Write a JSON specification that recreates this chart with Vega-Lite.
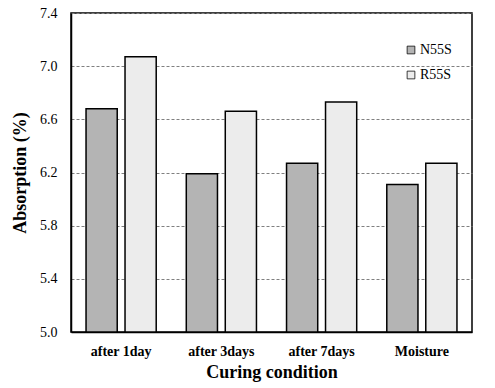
{
  "$schema": "https://vega.github.io/schema/vega-lite/v6.json",
  "width": 401,
  "height": 319,
  "autosize": {"type": "none"},
  "padding": {"left": 71, "top": 13, "right": 23, "bottom": 56},
  "background": "white",
  "data": {
    "values": [
      {"cond": "after 1day", "mix": "N55S", "absorption": 6.68},
      {"cond": "after 1day", "mix": "R55S", "absorption": 7.07},
      {"cond": "after 3days", "mix": "N55S", "absorption": 6.19},
      {"cond": "after 3days", "mix": "R55S", "absorption": 6.66},
      {"cond": "after 7days", "mix": "N55S", "absorption": 6.27},
      {"cond": "after 7days", "mix": "R55S", "absorption": 6.73},
      {"cond": "Moisture", "mix": "N55S", "absorption": 6.11},
      {"cond": "Moisture", "mix": "R55S", "absorption": 6.27}
    ]
  },
  "mark": {"type": "bar", "stroke": "black", "strokeWidth": 1.5},
  "encoding": {
    "x": {
      "field": "cond",
      "type": "nominal",
      "sort": ["after 1day", "after 3days", "after 7days", "Moisture"],
      "scale": {"paddingInner": 0.3, "paddingOuter": 0.15},
      "axis": {
        "title": "Curing condition",
        "labelAngle": 0,
        "ticks": false,
        "labelPadding": 12,
        "labelFont": "Liberation Serif, DejaVu Serif, serif",
        "labelFontSize": 14,
        "labelFontWeight": "bold",
        "labelColor": "black",
        "titleFont": "Liberation Serif, DejaVu Serif, serif",
        "titleFontSize": 18,
        "titleFontWeight": "bold",
        "titleColor": "black",
        "titlePadding": 5,
        "domainColor": "black",
        "domainWidth": 1.5
      }
    },
    "xOffset": {"field": "mix", "type": "nominal", "scale": {"paddingInner": 0.2, "paddingOuter": 0}},
    "y": {
      "field": "absorption",
      "type": "quantitative",
      "scale": {"domain": [5.0, 7.4], "nice": false, "zero": false},
      "axis": {
        "title": "Absorption (%)",
        "values": [5.0, 5.4, 5.8, 6.2, 6.6, 7.0, 7.4],
        "format": ".1f",
        "ticks": false,
        "labelPadding": 14,
        "labelFont": "Liberation Serif, DejaVu Serif, serif",
        "labelFontSize": 14,
        "labelColor": "black",
        "titleFont": "Liberation Serif, DejaVu Serif, serif",
        "titleFontSize": 18,
        "titleFontWeight": "bold",
        "titleColor": "black",
        "titlePadding": 10,
        "grid": true,
        "gridColor": "#808080",
        "gridDash": [3, 2],
        "gridWidth": 1,
        "domainColor": "black",
        "domainWidth": 1.5
      }
    },
    "y2": {"datum": 5.0},
    "fill": {
      "field": "mix",
      "type": "nominal",
      "scale": {"domain": ["N55S", "R55S"], "range": ["#b4b4b4", "#ececec"]},
      "legend": {
        "title": null,
        "orient": "none",
        "legendX": 333,
        "legendY": 30,
        "symbolType": "square",
        "symbolSize": 60,
        "symbolStrokeColor": "black",
        "symbolStrokeWidth": 0.75,
        "labelFont": "Liberation Serif, DejaVu Serif, serif",
        "labelFontSize": 14,
        "labelColor": "black",
        "labelOffset": 2,
        "rowPadding": 11
      }
    }
  },
  "config": {
    "view": {"stroke": "black", "strokeWidth": 1.5},
    "axis": {"gridOpacity": 1}
  }
}
